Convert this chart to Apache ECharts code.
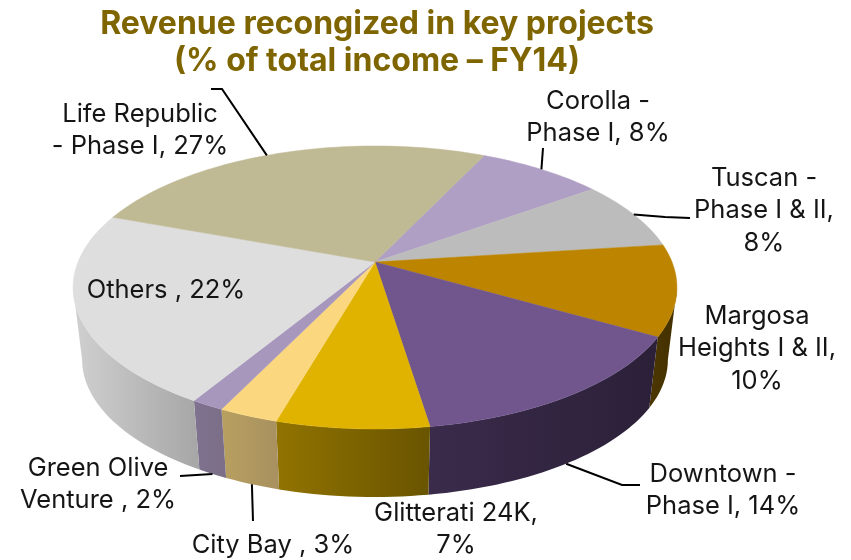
<!DOCTYPE html>
<html><head><meta charset="utf-8">
<style>html,body{margin:0;padding:0;background:#fff}#c{width:851px;height:560px}</style>
<script src="https://cdn.jsdelivr.net/npm/echarts@6/dist/echarts.min.js"></script>
</head><body><div id="c"></div>
<script>
// DATA (clockwise, starting at Corolla)
var names = ['Corolla -\nPhase I', 'Tuscan -\nPhase I & II,\n', 'Margosa\nHeights I & II,\n', 'Downtown -\nPhase I', 'Glitterati 24K,\n', 'City Bay ', 'Green Olive\nVenture ', 'Others ', 'Life Republic\n- Phase I'];
var printedPct = [8, 8, 10, 14, 7, 3, 2, 22, 27];
var values = [8, 8, 10.4, 14.3, 6.9, 2.7, 1.5, 22.1, 26.5];
var separators = [', ', '', '', ', ', '', ', ', ', ', ', ', ', '];
var topColors = ['#b09fc4', '#bcbcbc', '#bd8400', '#70568c', '#e0b300', '#fbd87f', '#a897bd', '#dedede', '#bfb994'];
var wallColorsLeft = ['#7d7089', '#808080', '#4c3700', '#3a2b4b', '#917300', '#b8a060', '#7f7290', '#d0d0d0', '#807a60'];
var wallColorsRight = ['#7d7089', '#808080', '#433000', '#2b2038', '#695400', '#a89060', '#7b6e86', '#a6a6a6', '#807a60'];
var titleText = 'Revenue recongized in key projects\n(% of total income \u2013 FY14)';

// LAYOUT
var G = {cx: 375, cy: 262, a: 297, b: 136.9, k: 0.18, s: 0.97, vy: 2696, startDeg: 25.3};
var labelLayout = [
  {x: 598, y: 117.5, line: {at: 0.5, face: 'top', pts: [[543, 148]]}},
  {x: 764, y: 210.5, line: {at: 0.5, face: 'top', pts: [[665, 217], [690, 218]]}},
  {x: 757, y: 348.5},
  {x: 723, y: 490.5, line: {at: 0.5, face: 'bottom', pts: [[622, 485], [640, 485]]}},
  {x: 456, y: 529.5},
  {x: 273, y: 545, line: {at: 0.5, face: 'bottom', pts: [[253, 521]]}},
  {x: 98, y: 484.5, line: {at: 0.5, face: 'bottom', pts: [[180, 476]]}},
  {x: 166, y: 290},
  {x: 140, y: 130.5, line: {at: 0.47, face: 'top', pts: [[222, 89], [211, 89]]}}
];
var labelFont = 'Inter';
var labelSize = 25.5;

var total = values.reduce(function (p, c) { return p + c; }, 0);
// the side wall is visible between the two silhouette tangents of the top ellipse
var wallFrom = Math.acos(-G.k) * 180 / Math.PI, wallTo = 360 - wallFrom;
function project(deg, face) {
  var t = deg * Math.PI / 180, u = Math.sin(t), v = -Math.cos(t), w = 1 - G.k * v;
  var x = G.cx + G.a * u / w, y = G.cy + G.b * v / w;
  if (face === 'bottom') { x = G.cx + (x - G.cx) * G.s; y = G.vy + (y - G.vy) * G.s; }
  return [x, y];
}
function startOf(i) {
  var acc = 0;
  for (var j = 0; j < i; j++) acc += values[j];
  return G.startDeg + acc / total * 360;
}
function arcPts(a0, a1, face) {
  var n = Math.max(2, Math.ceil((a1 - a0) / 1.5)), out = [];
  for (var i = 0; i <= n; i++) out.push(project(a0 + (a1 - a0) * i / n, face));
  return out;
}
var chart = echarts.init(document.getElementById('c'));
chart.setOption({
  animation: false,
  backgroundColor: '#fff',
  title: {
    text: titleText, left: 372, top: 1, textAlign: 'center',
    textStyle: {color: '#7f6500', fontFamily: 'Inter', fontWeight: 'bold', fontSize: 32, lineHeight: 37}
  },
  series: [{
    type: 'custom', coordinateSystem: 'none', silent: true,
    data: values.map(function (v, i) { return {name: names[i], value: [v, printedPct[i]]}; }),
    renderItem: function (params, api) {
      var i = params.dataIndex;
      var a0 = startOf(i), sweep = api.value(0) / total * 360, a1 = a0 + sweep;
      var top = arcPts(a0, a1, 'top');
      var kids = [];
      var w0 = Math.max(a0, wallFrom), w1 = Math.min(a1, wallTo);
      if (w1 > w0) {
        var wt = arcPts(w0, w1, 'top'), wb = arcPts(w0, w1, 'bottom');
        var wall = wt.concat(wb.slice().reverse());
        var xs = wall.map(function (p) { return p[0]; });
        kids.push({
          type: 'polygon', z2: 1, shape: {points: wall},
          style: {
            fill: new echarts.graphic.LinearGradient(Math.min.apply(null, xs), 0, Math.max.apply(null, xs), 0, [
              {offset: 0, color: wallColorsLeft[i]}, {offset: 1, color: wallColorsRight[i]}
            ], true)
          }
        });
      }
      kids.push({
        type: 'polygon', z2: 2, shape: {points: [[G.cx, G.cy]].concat(top)},
        style: {fill: topColors[i], stroke: topColors[i], lineWidth: 0.5}
      });
      var L = labelLayout[i];
      if (L.line) {
        var start = project(a0 + sweep * L.line.at, L.line.face);
        kids.push({
          type: 'polyline', z2: 3, shape: {points: [start].concat(L.line.pts)},
          style: {fill: null, stroke: '#000', lineWidth: 2}
        });
      }
      kids.push({
        type: 'text', z2: 4, x: L.x, y: L.y,
        style: {
          text: names[i] + separators[i] + api.value(1) + '%',
          x: 0, y: 0, align: 'center', verticalAlign: 'middle',
          fontFamily: labelFont, fontSize: labelSize, lineHeight: 32.5, fill: '#151515'
        }
      });
      return {type: 'group', children: kids};
    }
  }]
});
</script></body></html>
